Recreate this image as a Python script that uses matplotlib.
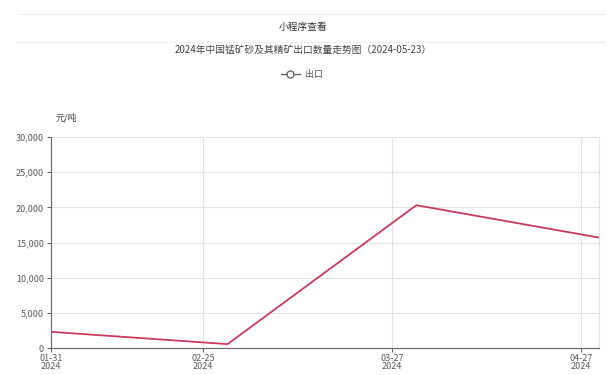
import matplotlib
matplotlib.use("Agg")
import matplotlib.pyplot as plt
import matplotlib.dates as mdates
from matplotlib.lines import Line2D
import numpy as np
import datetime as dt

plt.rcParams['font.family'] = ['Noto Sans CJK SC', 'DejaVu Sans']

dates = ["2024-01-31", "2024-02-29", "2024-03-31", "2024-04-30"]
values = [2300, 550, 20300, 15700]
xtick_dates = ["2024-01-31", "2024-02-25", "2024-03-27", "2024-04-27"]
xtick_labels = ["01-31\n2024", "02-25\n2024", "03-27\n2024", "04-27\n2024"]
yticks = [0, 5000, 10000, 15000, 20000, 25000, 30000]
series_name = "出口"
main_title = "小程序查看"
sub_title = "2024年中国锰矿砂及其精矿出口数量走势图（2024-05-23）"
unit = "元/吨"

line_color = "#c93a5c"
text_color = "#5a5a5a"
grid_color = "#e3e3e3"

x = [dt.datetime.strptime(d, "%Y-%m-%d") for d in dates]
xt = [dt.datetime.strptime(d, "%Y-%m-%d") for d in xtick_dates]

fig = plt.figure(figsize=(6.06, 3.75), dpi=100)
fig.patch.set_facecolor("white")
ax = fig.add_axes([51/606, 1-348/375, (599-51)/606, (348-137)/375])

ax.plot(x, values, color=line_color, lw=1.3, zorder=3)

ax.set_xlim(x[0], x[-1])
ax.set_ylim(0, 30000)
ax.set_yticks(yticks)
ax.set_yticklabels([f"{v:,}" for v in yticks])
ax.set_xticks(xt)
ax.set_xticklabels(xtick_labels)

ax.grid(True, color=grid_color, lw=0.8, zorder=0)
ax.spines["top"].set_visible(False)
ax.spines["right"].set_color(grid_color)
ax.spines["left"].set_color("#666666")
ax.spines["bottom"].set_color("#666666")
ax.tick_params(axis="both", colors="#666666", labelcolor=text_color, labelsize=6.5, length=3, pad=2)
ax.tick_params(axis="x", pad=1)
for lab in ax.get_xticklabels():
    lab.set_linespacing(0.9)

# titles
fig.text(0.5, 1-27/375, main_title, ha="center", va="center", fontsize=7, color="#333333")
fig.text(0.5, 1-50/375, sub_title, ha="center", va="center", fontsize=7, color="#444444")
fig.lines.append(Line2D([0.03, 1.0], [1-14/375, 1-14/375], transform=fig.transFigure, color="#eeeeee", lw=0.8))
fig.lines.append(Line2D([0.03, 1.0], [1-42/375, 1-42/375], transform=fig.transFigure, color="#eeeeee", lw=0.8))

# legend
lx = 0.5
ly = 1-74/375
fig.lines.append(Line2D([lx-0.037, lx-0.005], [ly, ly], transform=fig.transFigure, color="#666666", lw=1))
fig.lines.append(Line2D([lx-0.021], [ly], transform=fig.transFigure, marker="o", markersize=5,
                        markerfacecolor="white", markeredgecolor="#666666", markeredgewidth=1))
fig.text(lx+0.003, ly, series_name, ha="left", va="center", fontsize=6.5, color="#555555")

fig.text(66/606, 1-118/375, unit, ha="center", va="center", fontsize=6.5, color="#444444")

fig.savefig("out.png", dpi=100)
